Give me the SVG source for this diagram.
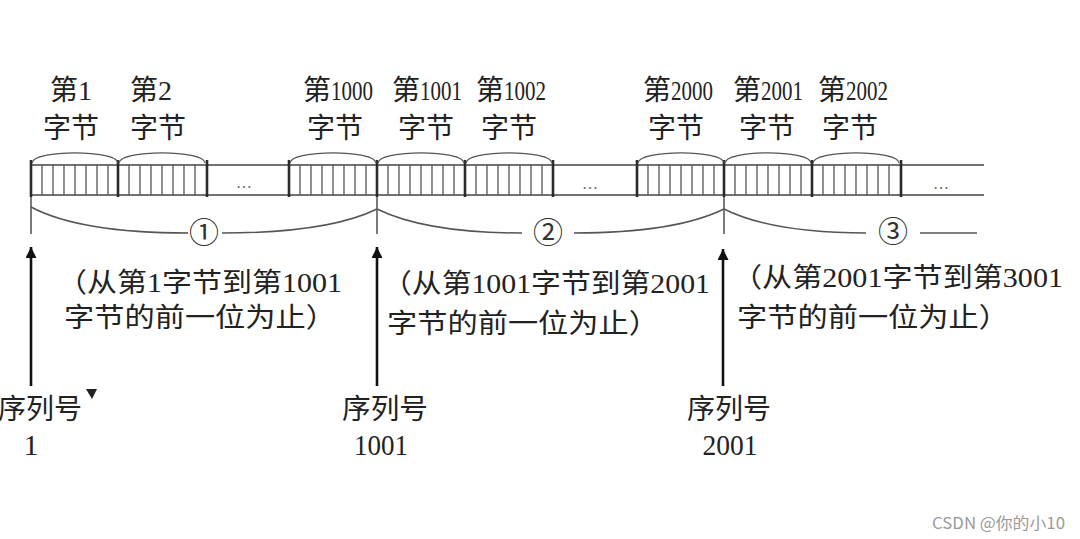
<svg xmlns="http://www.w3.org/2000/svg" xmlns:xlink="http://www.w3.org/1999/xlink" width="1080" height="539" viewBox="0 0 1080 539">
<style>
.t{font-family:"Liberation Serif","Noto Sans CJK SC",serif;fill:#222;}
.lab{font-size:28px;}
.dig{font-size:27px;}
.mid{font-size:27px;}
.num{font-size:30px;}
.circ{font-family:"Noto Sans CJK SC",sans-serif;font-size:30px;fill:#333;}
.thin{stroke:#444;stroke-width:1.4;fill:none;}
.tick{stroke:#555;stroke-width:1.3;fill:none;}
.bound{stroke:#2a2a2a;stroke-width:2.6;fill:none;}
.brace{stroke:#555;stroke-width:1.5;fill:none;}
.arrow{stroke:#111;stroke-width:2.6;fill:none;}
.dots{font-family:"Liberation Serif",serif;font-size:16px;fill:#666;}
.wm{font-family:"Noto Sans CJK SC","Liberation Sans",sans-serif;font-size:16px;fill:#9a9a9a;}
</style>
<defs>
<marker id="ah" viewBox="0 0 10 10" refX="10" refY="5" markerWidth="16" markerHeight="11" markerUnits="userSpaceOnUse" orient="auto">
<path d="M0,0 L10,5 L0,10 z" fill="#111"/>
</marker>
<g id="byte">
<path class="tick" d="M1,163 C2,149.5 86,149.5 87,163"/>
<path class="tick" d="M11,165V195M22,165V195M33,165V195M44,165V195M55,165V195M66,165V195M77,165V195"/>
</g>
</defs>
<rect width="1080" height="539" fill="#fff"/>

<g id="strip">
<path class="thin" d="M31,165H984M31,195H984"/>
<path class="bound" d="M31,160V197M118,160V197M207,160V197M289,160V197M377,160V197M465,160V197M553,160V197M637,160V197M724,160V197M812,160V197M901,160V197"/>
<path class="thin" d="M31,197V234M377,197V234M724,197V234"/>
<text class="dots" x="244" y="188" text-anchor="middle">…</text>
<text class="dots" x="590" y="189" text-anchor="middle">…</text>
<text class="dots" x="941" y="189" text-anchor="middle">…</text>
</g>

<g id="byte-1">
<use xlink:href="#byte" x="31"/>
<text class="t lab" x="50" y="100">第<tspan class="dig" textLength="14" lengthAdjust="spacingAndGlyphs">1</tspan></text>
<text class="t lab" x="71" y="138" text-anchor="middle">字节</text>
</g>
<g id="byte-2">
<use xlink:href="#byte" x="118"/>
<text class="t lab" x="130" y="100">第<tspan class="dig" textLength="14" lengthAdjust="spacingAndGlyphs">2</tspan></text>
<text class="t lab" x="158" y="138" text-anchor="middle">字节</text>
</g>
<g id="byte-1000">
<use xlink:href="#byte" x="289"/>
<text class="t lab" x="303" y="100">第<tspan class="dig" textLength="42" lengthAdjust="spacingAndGlyphs">1000</tspan></text>
<text class="t lab" x="335" y="138" text-anchor="middle">字节</text>
</g>
<g id="byte-1001">
<use xlink:href="#byte" x="377"/>
<text class="t lab" x="392" y="100">第<tspan class="dig" textLength="42" lengthAdjust="spacingAndGlyphs">1001</tspan></text>
<text class="t lab" x="426" y="138" text-anchor="middle">字节</text>
</g>
<g id="byte-1002">
<use xlink:href="#byte" x="465"/>
<text class="t lab" x="476" y="100">第<tspan class="dig" textLength="42" lengthAdjust="spacingAndGlyphs">1002</tspan></text>
<text class="t lab" x="509" y="138" text-anchor="middle">字节</text>
</g>
<g id="byte-2000">
<use xlink:href="#byte" x="637"/>
<text class="t lab" x="643" y="100">第<tspan class="dig" textLength="42" lengthAdjust="spacingAndGlyphs">2000</tspan></text>
<text class="t lab" x="676" y="138" text-anchor="middle">字节</text>
</g>
<g id="byte-2001">
<use xlink:href="#byte" x="724"/>
<text class="t lab" x="733" y="100">第<tspan class="dig" textLength="42" lengthAdjust="spacingAndGlyphs">2001</tspan></text>
<text class="t lab" x="767" y="138" text-anchor="middle">字节</text>
</g>
<g id="byte-2002">
<use xlink:href="#byte" x="812"/>
<text class="t lab" x="818" y="100">第<tspan class="dig" textLength="42" lengthAdjust="spacingAndGlyphs">2002</tspan></text>
<text class="t lab" x="850" y="138" text-anchor="middle">字节</text>
</g>

<g id="segment-1">
<path class="brace" d="M31,207 Q80,233 188,233M222,233 Q328,233 377,209"/>
<text class="circ" x="204" y="243" text-anchor="middle">①</text>
<text class="t mid" x="57" y="292" textLength="285" lengthAdjust="spacingAndGlyphs">（从第1字节到第1001</text>
<text class="t mid" x="64" y="327" textLength="272" lengthAdjust="spacingAndGlyphs">字节的前一位为止）</text>
</g>
<g id="segment-2">
<path class="brace" d="M377,209 Q426,233 522,233M574,233 Q675,233 724,209"/>
<text class="circ" x="548" y="243" text-anchor="middle">②</text>
<text class="t mid" x="382" y="293" textLength="328" lengthAdjust="spacingAndGlyphs">（从第1001字节到第2001</text>
<text class="t mid" x="387" y="333" textLength="272" lengthAdjust="spacingAndGlyphs">字节的前一位为止）</text>
</g>
<g id="segment-3">
<path class="brace" d="M724,209 Q772,233 866,233M920,233 L977,233"/>
<text class="circ" x="893" y="242" text-anchor="middle">③</text>
<text class="t mid" x="732" y="287" textLength="331" lengthAdjust="spacingAndGlyphs">（从第2001字节到第3001</text>
<text class="t mid" x="737" y="327" textLength="272" lengthAdjust="spacingAndGlyphs">字节的前一位为止）</text>
</g>

<g id="connectors">
<line class="arrow" x1="31" y1="386" x2="31" y2="247" marker-end="url(#ah)"/>
<line class="arrow" x1="377" y1="386" x2="377" y2="247" marker-end="url(#ah)"/>
<line class="arrow" x1="723" y1="386" x2="723" y2="249" marker-end="url(#ah)"/>
</g>

<g id="seq-1">
<text class="t lab" x="-2" y="419" textLength="84" lengthAdjust="spacingAndGlyphs">序列号</text>
<polygon points="86,389 97,389 92,399" fill="#222"/>
<text class="t num" x="31" y="455" text-anchor="middle">1</text>
</g>
<g id="seq-1001">
<text class="t lab" x="342" y="419" textLength="86" lengthAdjust="spacingAndGlyphs">序列号</text>
<text class="t num" x="381" y="455" text-anchor="middle" textLength="54" lengthAdjust="spacingAndGlyphs">1001</text>
</g>
<g id="seq-2001">
<text class="t lab" x="687" y="419" textLength="84" lengthAdjust="spacingAndGlyphs">序列号</text>
<text class="t num" x="730" y="455" text-anchor="middle" textLength="55" lengthAdjust="spacingAndGlyphs">2001</text>
</g>

<text class="wm" x="932" y="529" textLength="133" lengthAdjust="spacingAndGlyphs">CSDN @你的小10</text>
</svg>
